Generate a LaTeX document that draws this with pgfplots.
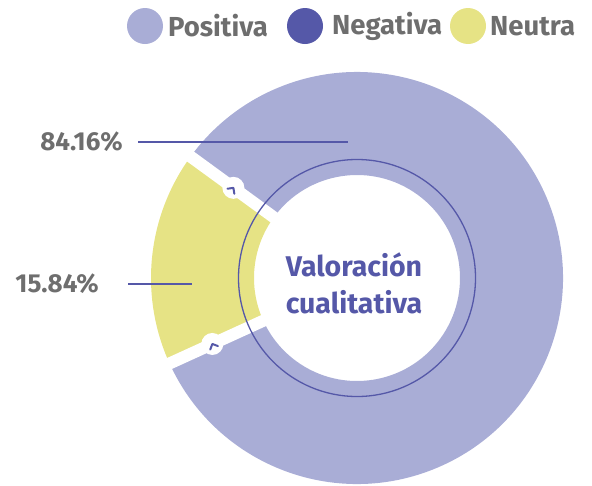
\documentclass[border=0pt]{standalone}
\usepackage{pgfplots}
\pgfplotsset{compat=1.18}
\usepackage{pgfplotstable}
\usepackage{fontspec}
\setmainfont{Fira Sans}
\definecolor{lav}{HTML}{A9ADD6}
\definecolor{navy}{HTML}{5558A8}
\definecolor{yel}{HTML}{E6E385}
\definecolor{txt}{HTML}{6E6E6E}
\pgfplotstableread{
label value
Positiva 84.16
Negativa 0
Neutra 15.84
}\datatable
\begin{document}
\begin{tikzpicture}
\pgfplotstablegetelem{0}{value}\of\datatable \edef\vpos{\pgfplotsretval}
\pgfplotstablegetelem{2}{value}\of\datatable \edef\vneu{\pgfplotsretval}
\pgfmathsetmacro{\span}{\vneu*3.6}
\pgfmathsetmacro{\azero}{174.2-\span/2-1.8}
\pgfmathsetmacro{\aone}{174.2+\span/2+1.8}
\pgfmathsetmacro{\afull}{\azero+360}
\begin{axis}[x=1pt, y=1pt, xmin=0, xmax=592, ymin=0, ymax=485, y dir=reverse,
  hide axis, clip=false, anchor=south west, at={(0,0)}]
\coordinate (C) at (axis cs:357,278);
% lavender (Positiva)
\fill[lav] ([shift={(\aone:206pt)}]C) arc[start angle=\aone, end angle=\afull, radius=206pt]
  -- ([shift={(\azero:103pt)}]C) arc[start angle=\afull, end angle=\aone, radius=103pt] -- cycle;
% yellow (Neutra)
\fill[yel] ([shift={(\azero:206pt)}]C) arc[start angle=\azero, end angle=\aone, radius=206pt]
  -- ([shift={(\aone:103pt)}]C) arc[start angle=\aone, end angle=\azero, radius=103pt] -- cycle;
% gaps
\draw[white, line width=12pt] ([shift={(\azero:90pt)}]C) -- ([shift={(\azero:215pt)}]C);
\draw[white, line width=12pt] ([shift={(\aone:90pt)}]C) -- ([shift={(\aone:215pt)}]C);
% inner thin circle
\draw[navy, line width=1.3pt] (C) circle[radius=118.5pt];
% gap markers
\fill[white] ([shift={(\azero:153pt)}]C) circle[radius=11pt];
\fill[white] ([shift={(\aone:159pt)}]C) circle[radius=11pt];
\pgfmathsetmacro{\dz}{\azero-90}
\pgfmathsetmacro{\dy}{\aone-90}
\draw[navy, line width=2pt, line join=round, line cap=round]
  ([shift={(\azero:153pt)}]C) ++(\dz+135:6pt) -- ++(\dz-45:6pt) -- ++(\dz-135:6pt);
\draw[navy, line width=2pt, line join=round, line cap=round]
  ([shift={(\aone:159pt)}]C) ++(\dy+135:6pt) -- ++(\dy-45:6pt) -- ++(\dy-135:6pt);
% leader lines
\draw[navy, line width=2pt] (axis cs:138,142) -- (axis cs:348,142);
\draw[navy, line width=2pt] (axis cs:128,284) -- (axis cs:192,284);
\node[anchor=east, text=txt, font=\bfseries\fontsize{26}{26}\selectfont, inner sep=0pt] at (axis cs:123,142) {\vpos\%};
\node[anchor=east, text=txt, font=\bfseries\fontsize{26}{26}\selectfont, inner sep=0pt] at (axis cs:99,284) {\vneu\%};
% center text
\node[align=center, text=navy, font=\bfseries\fontsize{28.5}{37}\selectfont] at (axis cs:354,283) {Valoración\\cualitativa};
% legend
\fill[lav] (axis cs:145,26) circle[radius=18pt];
\fill[navy] (axis cs:305,26) circle[radius=18pt];
\fill[yel] (axis cs:468,26) circle[radius=18pt];
\node[anchor=west, text=txt, font=\bfseries\fontsize{27.5}{27.5}\selectfont, inner sep=0pt] at (axis cs:168,26) {Positiva};
\node[anchor=west, text=txt, font=\bfseries\fontsize{27.5}{27.5}\selectfont, inner sep=0pt] at (axis cs:332,26) {Negativa};
\node[anchor=west, text=txt, font=\bfseries\fontsize{27.5}{27.5}\selectfont, inner sep=0pt] at (axis cs:490,26) {Neutra};
\end{axis}
\pgfresetboundingbox
\path (0,0) rectangle (592pt,485pt);
\end{tikzpicture}
\end{document}
